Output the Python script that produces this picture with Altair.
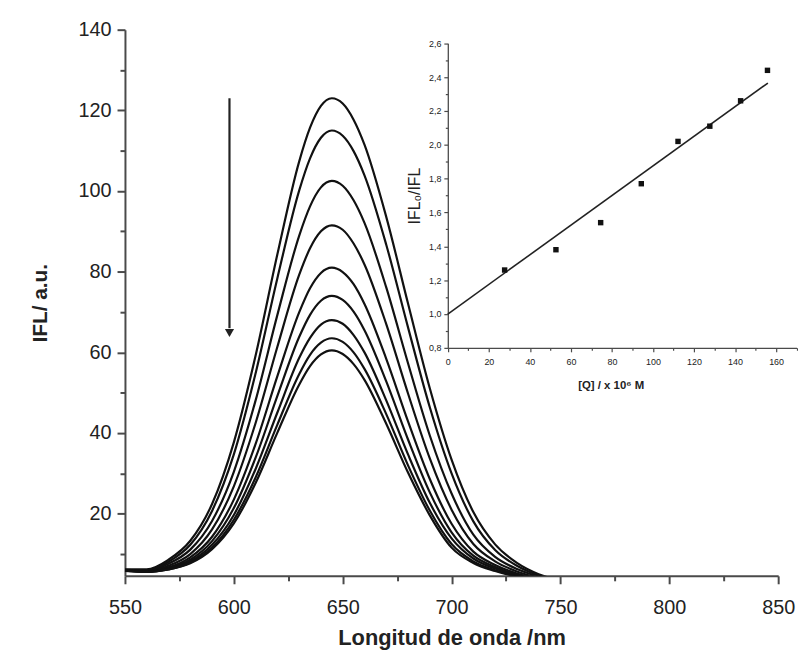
import altair as alt
import pandas as pd

# ---------------- data ----------------
wavelength = [550, 560, 570, 580, 590, 600, 610, 620, 630, 635, 640, 645,
              650, 655, 660, 670, 680, 690, 700, 710, 720, 730, 740, 750]

c1 = [6.2, 6.2, 8.6, 13.3, 22.4, 37.7, 59.2, 84.3, 107.3, 115.7, 121.1, 123.0,
      121.7, 117.7, 111.5, 93.6, 72.1, 51.1, 33.4, 20.4, 12.4, 7.8, 5.0, 3.4]
c2 = [6.1, 6.0, 8.1, 12.3, 20.7, 34.7, 54.8, 78.4, 100.1, 108.1, 113.2, 115.0,
      113.7, 109.9, 103.9, 86.7, 66.2, 46.4, 30.0, 18.1, 11.0, 7.1, 4.7, 3.2]
c3 = [6.0, 5.9, 7.6, 11.1, 18.2, 30.4, 48.1, 69.3, 88.9, 96.2, 100.9, 102.5,
      101.3, 97.7, 92.1, 76.1, 57.3, 39.4, 25.0, 14.8, 9.3, 6.3, 4.4, 3.0]
c4 = [6.0, 5.8, 7.1, 10.0, 16.1, 26.8, 42.5, 61.4, 79.2, 85.8, 90.0, 91.5,
      90.4, 87.0, 81.8, 67.0, 49.8, 33.7, 21.0, 12.5, 8.2, 5.7, 4.1, 2.8]
c5 = [5.9, 5.7, 6.7, 9.2, 14.3, 23.5, 37.3, 54.1, 69.9, 75.9, 79.7, 81.0,
      79.9, 76.9, 72.0, 58.4, 42.9, 28.6, 17.5, 10.6, 7.3, 5.2, 3.9, 2.7]
c6 = [5.9, 5.7, 6.5, 8.6, 13.2, 21.4, 33.9, 49.2, 63.8, 69.3, 72.8, 74.0,
      73.0, 70.1, 65.5, 52.8, 38.4, 25.3, 15.4, 9.6, 6.8, 4.9, 3.7, 2.6]
c7 = [5.9, 5.6, 6.4, 8.2, 12.3, 19.7, 31.1, 45.1, 58.6, 63.6, 66.9, 68.0,
      67.1, 64.3, 60.0, 48.1, 34.7, 22.7, 13.9, 8.9, 6.4, 4.7, 3.6, 2.6]
c8 = [5.8, 5.6, 6.2, 7.9, 11.6, 18.5, 29.0, 42.1, 54.6, 59.4, 62.4, 63.5,
      62.6, 60.0, 55.9, 44.7, 32.0, 20.8, 12.5, 8.2, 6.0, 4.5, 3.5, 2.5]
c9 = [5.8, 5.6, 6.2, 7.7, 11.2, 17.6, 27.6, 40.1, 52.0, 56.6, 59.5, 60.5,
      59.6, 57.1, 53.2, 42.3, 30.2, 19.6, 11.6, 7.8, 5.8, 4.4, 3.4, 2.5]
curve_values = [c1, c2, c3, c4, c5, c6, c7, c8, c9]

# arrow (quenching direction)
arrow_wl = [598]
arrow_top = [123]
arrow_bottom = [66]
arrow_tip = [64.8]

# inset: Stern-Volmer plot
q_conc = [27.7, 52.7, 74.5, 94.3, 112.2, 127.7, 142.7, 155.8]
ratio = [1.26, 1.38, 1.54, 1.77, 2.02, 2.11, 2.26, 2.44]
fit_q = [0, 156]
fit_ratio = [1.0, 2.365]

# tick values
x_ticks = [550, 575, 600, 625, 650, 675, 700, 725, 750, 775, 800, 825, 850]
y_ticks = [10, 20, 30, 40, 50, 60, 70, 80, 90, 100, 110, 120, 130, 140]
qx_ticks = [0, 10, 20, 30, 40, 50, 60, 70, 80, 90, 100, 110, 120, 130, 140, 150, 160, 170]
qy_ticks = [0.8, 0.9, 1.0, 1.1, 1.2, 1.3, 1.4, 1.5, 1.6, 1.7, 1.8, 1.9, 2.0,
            2.1, 2.2, 2.3, 2.4, 2.5, 2.6]

# ---------------- tables ----------------
rows = []
for i, series in enumerate(curve_values):
    for w, v in zip(wavelength, series):
        rows.append({"wl": w, "ifl": v, "curve": i})
spectra = pd.DataFrame(rows)
arrow_df = pd.DataFrame({"wl": arrow_wl, "ifl": arrow_top, "ifl2": arrow_bottom})
tip_df = pd.DataFrame({"wl": arrow_wl, "ifl": arrow_tip})
pts_df = pd.DataFrame({"q": q_conc, "r": ratio})
fit_df = pd.DataFrame({"q": fit_q, "r": fit_ratio})

# ---------------- layout ----------------
W, H = 659, 551
FONT = "Liberation Sans"
TXT = "#222222"
AX = "#4a4a4a"

xmain = alt.Scale(domain=[550, 850], nice=False, zero=False)
ymain = alt.Scale(domain=[4.6, 140], nice=False, zero=False)

x_axis = alt.Axis(
    values=x_ticks, labelExpr="datum.value % 50 === 0 ? datum.label : ''",
    tickSize={"condition": {"test": "datum.value % 50 === 0", "value": 8}, "value": 5},
    labelOverlap=False, labelFlush=False, grid=False,
    domainColor=AX, tickColor=AX, domainWidth=2, tickWidth=2,
    labelFont=FONT, labelFontSize=20, labelColor=TXT, labelPadding=14,
    titleFont=FONT, titleFontSize=22, titleFontWeight="bold", titleColor=TXT,
    titlePadding=10,
)
y_axis = alt.Axis(
    values=y_ticks, labelExpr="datum.value % 20 === 0 ? datum.label : ''",
    tickSize={"condition": {"test": "datum.value % 20 === 0", "value": 8}, "value": 5},
    labelOverlap=False, labelFlush=False, grid=False,
    domainColor=AX, tickColor=AX, domainWidth=2, tickWidth=2,
    labelFont=FONT, labelFontSize=20, labelColor=TXT, labelPadding=6,
    titleFont=FONT, titleFontSize=21, titleFontWeight="bold", titleColor=TXT,
    titlePadding=28,
)

X = alt.X("wl:Q", scale=xmain, axis=x_axis, title="Longitud de onda /nm")
Y = alt.Y("ifl:Q", scale=ymain, axis=y_axis, title="IFL/ a.u.")

lines = alt.Chart(spectra).mark_line(
    color="#111111", strokeWidth=2.2, interpolate="monotone", clip=True
).encode(x=X, y=Y, detail="curve:N")

arrow = alt.Chart(arrow_df).mark_rule(color="#222222", strokeWidth=2.2).encode(
    x=X, y=Y, y2="ifl2:Q")
tip = alt.Chart(tip_df).mark_point(
    shape="triangle-down", filled=True, size=85, color="#222222", opacity=1
).encode(x=X, y=Y)

main = alt.layer(lines, arrow, tip)

# inset placed inside plot area via pixel ranges
IX0, IX1 = 325.7, 677.6
IY0, IY1 = 321.0, 13.7
xin = alt.Scale(domain=[0, 170], range=[IX0, IX1], nice=False, zero=False)
yin = alt.Scale(domain=[0.8, 2.6], range=[IY0, IY1], nice=False, zero=False)

qx_axis = alt.Axis(
    orient="bottom", offset=-(H - IY0), values=qx_ticks,
    labelExpr="datum.value % 20 === 0 ? datum.label : ''",
    tickSize={"condition": {"test": "datum.value % 20 === 0", "value": 4}, "value": 2.5},
    labelOverlap=False, labelFlush=False, grid=False,
    domainColor=AX, tickColor=AX, domainWidth=1.3, tickWidth=1.2,
    labelFont=FONT, labelFontSize=9, labelColor=TXT, labelPadding=6,
    titleFont=FONT, titleFontSize=11.5, titleFontWeight="bold", titleColor=TXT,
    titleX=490, titleY=38, titleAnchor="middle", titleBaseline="middle",
)
qy_axis = alt.Axis(
    orient="left", offset=-IX0, values=qy_ticks,
    labelExpr="round(datum.value * 10) % 2 === 0 ? replace(format(datum.value, '.1f'), '.', ',') : ''",
    tickSize={"condition": {"test": "round(datum.value * 10) % 2 === 0", "value": 4}, "value": 2.5},
    labelOverlap=False, labelFlush=False, grid=False,
    domainColor=AX, tickColor=AX, domainWidth=1.3, tickWidth=1.2,
    labelFont=FONT, labelFontSize=9, labelColor=TXT, labelPadding=3,
    titleFont=FONT, titleFontSize=16, titleFontWeight="normal", titleColor=TXT,
    titlePadding=6,
)
QX = alt.X("q:Q", scale=xin, axis=qx_axis, title="[Q] / x 10\u2076 M")
QY = alt.Y("r:Q", scale=yin, axis=qy_axis, title="IFL\u2080/IFL")

fit = alt.Chart(fit_df).mark_line(color="#222222", strokeWidth=1.6).encode(x=QX, y=QY)
pts = alt.Chart(pts_df).mark_point(
    shape="square", filled=True, size=30, color="#111111", opacity=1
).encode(x=QX, y=QY)
inset = alt.layer(fit, pts)

chart = alt.layer(main, inset).resolve_scale(
    x="independent", y="independent"
).properties(
    width=W, height=H, autosize="none",
    padding={"left": 118, "top": 19, "right": 20, "bottom": 80},
    background="white",
).configure_view(stroke=None)

chart.save("out.html", embed_options={"renderer": "svg", "actions": False})
